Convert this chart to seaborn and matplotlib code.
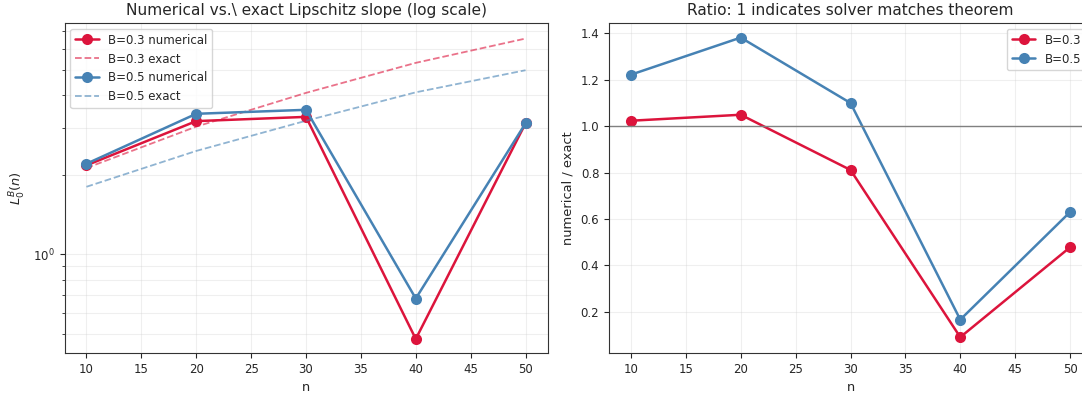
import numpy as np
import matplotlib
matplotlib.use('Agg')
import matplotlib.pyplot as plt
import seaborn as sns

# data
n_values = [10, 20, 30, 40, 50]
b03_numerical = [2.17, 3.19, 3.31, 0.478, 3.13]
b03_exact = [2.12, 3.04, 4.08, 5.30, 6.55]
b05_numerical = [2.20, 3.40, 3.52, 0.680, 3.13]
b05_exact = [1.80, 2.46, 3.20, 4.10, 4.97]

red = '#DC143C'
blue = '#4682B4'

sns.set_style('ticks')
plt.rcParams['font.family'] = ['DejaVu Sans']

fig = plt.figure(figsize=(10.82, 3.98), dpi=100)
ax1 = fig.add_axes([64.5 / 1082, 45 / 398, 483 / 1082, 330 / 398])
ax2 = fig.add_axes([609 / 1082, 45 / 398, 483 / 1082, 330 / 398])

num_kw = dict(marker='o', markersize=8, markeredgewidth=0, linewidth=1.8)
exact_kw = dict(linestyle='--', linewidth=1.3, alpha=0.6)

# 左图: 数值解与精确解 (对数坐标)
sns.lineplot(x=n_values, y=b03_numerical, ax=ax1, color=red, label='B=0.3 numerical', **num_kw)
sns.lineplot(x=n_values, y=b03_exact, ax=ax1, color=red, label='B=0.3 exact', **exact_kw)
sns.lineplot(x=n_values, y=b05_numerical, ax=ax1, color=blue, label='B=0.5 numerical', **num_kw)
sns.lineplot(x=n_values, y=b05_exact, ax=ax1, color=blue, label='B=0.5 exact', **exact_kw)
ax1.set_yscale('log')
ax1.set_ylim(0.423, 7.5)
ax1.set_xlim(8, 52)
ax1.set_xlabel('n', fontsize=9.4)
ax1.set_ylabel('$L_0^B(n)$', fontsize=9.4)
ax1.set_title('Numerical vs.\\ exact Lipschitz slope (log scale)', fontsize=11.1)
ax1.grid(True, which='both', alpha=0.3)
ax1.legend(loc='upper left', fontsize=8.5)

# 右图: 比值
ratio03 = np.array(b03_numerical) / np.array(b03_exact)
ratio05 = np.array(b05_numerical) / np.array(b05_exact)
sns.lineplot(x=n_values, y=ratio03, ax=ax2, color=red, label='B=0.3', **num_kw)
sns.lineplot(x=n_values, y=ratio05, ax=ax2, color=blue, label='B=0.5', **num_kw)
ax2.axhline(1.0, color='gray', linewidth=1)
ax2.set_xlim(8, 52)
ax2.set_ylim(0.022, 1.445)
ax2.set_xlabel('n', fontsize=9.4)
ax2.set_ylabel('numerical / exact', fontsize=9.4)
ax2.set_title('Ratio: 1 indicates solver matches theorem', fontsize=11.1)
ax2.grid(True, alpha=0.3)
ax2.legend(loc='upper right', fontsize=8.5)

for ax in (ax1, ax2):
    ax.tick_params(labelsize=8.5)
    for s in ax.spines.values():
        s.set_color('#333333')

plt.savefig('out.png', dpi=100)
